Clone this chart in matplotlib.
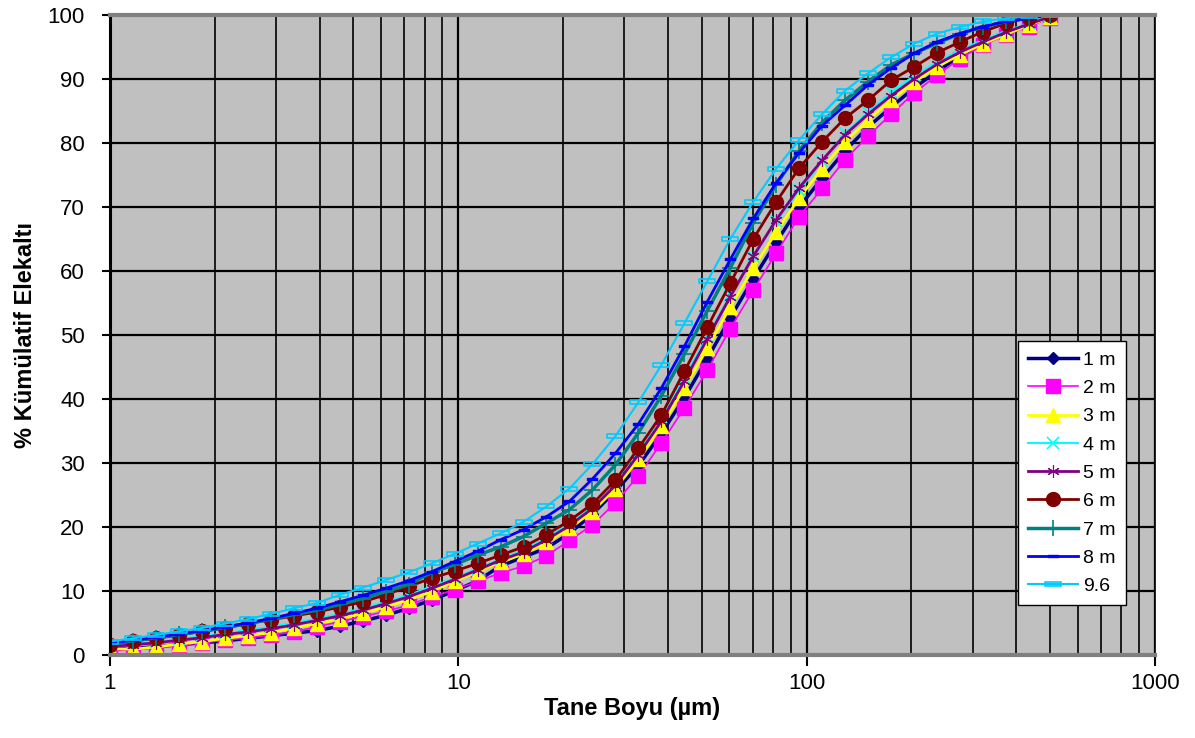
import numpy as np
import matplotlib.pyplot as plt
from matplotlib.path import Path
from matplotlib.ticker import FixedLocator, LogLocator

plt.rcParams['font.family'] = ['Liberation Sans', 'DejaVu Sans']

# sieve sizes (µm)
sizes = [1.00, 1.164, 1.355, 1.577, 1.836, 2.137, 2.487, 2.895, 3.370, 3.923,
         4.566, 5.315, 6.187, 7.202, 8.383, 9.758, 11.36, 13.22, 15.39, 17.91,
         20.85, 24.27, 28.25, 32.89, 38.28, 44.56, 51.87, 60.38, 70.28, 81.81,
         95.23, 110.8, 129.0, 150.2, 174.8, 203.5, 236.9, 275.7, 321.0, 373.6,
         434.9, 500.0]

# cumulative passing (%) per depth
d1m = [1.0, 1.0, 1.3, 1.6, 1.9, 2.2, 2.6, 3.0, 3.4, 3.8,
       4.5, 5.3, 6.2, 7.3, 8.6, 10.0, 11.6, 13.9, 15.3, 16.7,
       19.0, 22.0, 25.6, 29.6, 34.6, 40.2, 46.3, 52.7, 58.8, 64.5,
       70.0, 74.5, 78.8, 82.5, 85.6, 88.6, 91.2, 93.6, 95.6, 97.2,
       98.5, 99.7]
d2m = [0.7, 0.8, 1.1, 1.5, 1.9, 2.3, 2.7, 3.1, 3.6, 4.4,
       5.2, 6.0, 6.8, 7.8, 9.1, 10.2, 11.5, 12.8, 13.9, 15.5,
       17.9, 20.3, 23.8, 28.0, 33.1, 38.6, 44.5, 51.0, 57.0, 62.8,
       68.5, 72.9, 77.4, 81.1, 84.5, 87.8, 90.6, 93.2, 95.3, 96.9,
       98.2, 99.6]
d3m = [1.0, 0.9, 1.25, 1.7, 2.1, 2.6, 3.0, 3.5, 4.2, 4.9,
       5.6, 6.5, 7.5, 8.6, 9.9, 11.5, 13.0, 14.5, 15.8, 17.6,
       19.8, 22.4, 26.0, 30.6, 35.7, 41.7, 47.9, 54.4, 60.4, 66.1,
       71.4, 76.0, 80.2, 83.6, 86.7, 89.5, 91.9, 93.8, 95.5, 97.0,
       98.4, 99.7]
d4m = [1.4, 1.8, 2.1, 2.5, 2.9, 3.4, 3.9, 4.4, 5.0, 5.7,
       6.4, 7.3, 8.3, 9.4, 10.7, 12.0, 13.5, 15.0, 16.4, 18.3,
       20.6, 23.4, 27.1, 32.0, 37.2, 43.4, 49.8, 56.2, 62.3, 67.8,
       72.6, 77.2, 81.5, 84.9, 87.9, 90.5, 92.7, 94.5, 96.1, 97.5,
       98.7, 99.8]
d5m = [1.3, 1.6, 1.9, 2.3, 2.7, 3.2, 3.6, 4.1, 4.7, 5.4,
       6.1, 7.0, 8.0, 9.1, 10.4, 11.8, 13.3, 14.8, 16.1, 18.0,
       20.2, 22.9, 26.5, 31.3, 36.5, 42.8, 49.4, 56.0, 62.3, 68.0,
       73.0, 77.3, 81.3, 84.5, 87.4, 90.0, 92.3, 94.2, 95.8, 97.3,
       98.6, 99.7]
d6m = [1.6, 2.2, 2.6, 3.1, 3.7, 4.2, 4.9, 5.5, 6.1, 6.7,
       7.5, 8.3, 9.4, 10.7, 12.0, 13.1, 14.3, 15.6, 16.9, 18.8,
       21.0, 23.6, 27.3, 32.3, 37.5, 44.3, 51.2, 58.1, 65.0, 70.8,
       76.1, 80.2, 83.9, 86.7, 89.8, 91.9, 94.1, 95.8, 97.4, 98.7,
       99.6, 100.0]
d7m = [1.7, 2.2, 2.7, 3.2, 3.7, 4.3, 4.9, 5.6, 6.3, 7.0,
       7.9, 8.8, 9.9, 11.0, 12.9, 14.1, 15.6, 16.9, 18.5, 20.6,
       22.7, 25.8, 29.7, 34.7, 40.5, 47.0, 53.8, 60.5, 67.5, 73.5,
       78.8, 83.2, 86.7, 89.6, 92.2, 94.0, 95.6, 97.1, 98.1, 99.0,
       99.6, 100.0]
d8m = [1.9, 2.3, 2.8, 3.3, 3.8, 4.4, 5.0, 5.7, 6.5, 7.3,
       8.3, 9.3, 10.4, 11.6, 13.0, 14.6, 16.2, 18.0, 19.6, 21.6,
       24.0, 27.5, 31.5, 36.1, 41.7, 48.2, 55.2, 61.8, 68.2, 73.8,
       78.5, 82.7, 85.9, 89.1, 91.7, 94.0, 95.8, 97.1, 98.2, 99.0,
       99.5, 100.0]
d96 = [2.1, 2.6, 3.1, 3.7, 4.2, 4.9, 5.6, 6.4, 7.3, 8.1,
       9.4, 10.5, 11.7, 12.9, 14.3, 15.8, 17.4, 19.0, 20.8, 23.2,
       26.0, 29.8, 34.2, 39.5, 45.3, 51.8, 58.4, 65.0, 70.8, 76.0,
       80.5, 84.5, 88.2, 90.9, 93.4, 95.5, 97.1, 98.1, 99.0, 99.5,
       99.8, 100.0]

labels = ['1 m', '2 m', '3 m', '4 m', '5 m', '6 m', '7 m', '8 m', '9.6']

# small horizontal bar used as marker for the two deepest series
bar_wide = Path([(-1, -0.3), (1, -0.3), (1, 0.3), (-1, 0.3), (-1, -0.3)],
                [Path.MOVETO, Path.LINETO, Path.LINETO, Path.LINETO, Path.CLOSEPOLY])

styles = [
    dict(color='#000080', lw=2.5, marker='D', ms=6),
    dict(color='#FF00FF', lw=1.2, marker='s', ms=10),
    dict(color='#FFFF00', lw=2.0, marker='^', ms=10),
    dict(color='#00FFFF', lw=1.5, marker='x', ms=8, mew=1.2),
    dict(color='#800080', lw=2.0, marker=(6, 2, 0), ms=9, mew=0.8),
    dict(color='#800000', lw=2.0, marker='o', ms=10),
    dict(color='#008080', lw=2.5, marker='+', ms=12, mew=1.2),
    dict(color='#0000FF', lw=2.0, marker=bar_wide, ms=7),
    dict(color='#00CCFF', lw=1.5, marker=bar_wide, ms=11, mfc='none', mew=1.2),
]

series = [d1m, d2m, d3m, d4m, d5m, d6m, d7m, d8m, d96]

fig = plt.figure(figsize=(11.95, 7.38), dpi=100)
ax = fig.add_axes([0.092, 0.1125, 0.8745, 0.8672])
ax.set_facecolor('#C0C0C0')

for vals, lab, st in zip(series, labels, styles):
    st = dict(st)
    ax.plot(sizes, vals, label=lab, color=st.pop('color'), lw=st.pop('lw'),
            marker=st.pop('marker'), ms=st.pop('ms'), **st)

ax.set_xscale('log')
ax.set_xlim(1, 1000)
ax.set_ylim(0, 100)

ax.xaxis.set_major_locator(FixedLocator([1, 10, 100, 1000]))
ax.xaxis.set_minor_locator(LogLocator(base=10, subs=np.arange(2, 10)))
ax.set_xticks([1, 10, 100, 1000])
ax.set_xticklabels(['1', '10', '100', '1000'])
ax.set_yticks(np.arange(0, 101, 10))

ax.grid(True, which='major', axis='both', color='black', lw=1.6, zorder=0)
ax.grid(True, which='minor', axis='x', color='black', lw=1.2, zorder=0)
ax.set_axisbelow(True)

ax.tick_params(axis='y', direction='out', length=6, width=1.5, labelsize=16, pad=12)
ax.tick_params(axis='x', which='major', direction='out', length=8, width=1.5,
               labelsize=16, pad=5)
ax.tick_params(axis='x', which='minor', length=0)

ax.spines['left'].set_color('black')
ax.spines['left'].set_linewidth(2.2)
for side in ('top', 'bottom'):
    ax.spines[side].set_color('#808080')
    ax.spines[side].set_linewidth(3)
ax.spines['right'].set_color('black')
ax.spines['right'].set_linewidth(1.2)

ax.set_xlabel('Tane Boyu (µm)', fontsize=17, fontweight='bold', labelpad=2)
ax.set_ylabel('% Kümülatif Elekaltı', fontsize=17, fontweight='bold', labelpad=8)

leg = ax.legend(loc='upper left', bbox_to_anchor=(0.869, 0.49), fontsize=14,
                frameon=True, fancybox=False, edgecolor='black',
                handlelength=2.6, labelspacing=0.55, borderpad=0.5,
                handletextpad=0.25, borderaxespad=0)
leg.get_frame().set_linewidth(1.0)
leg.get_frame().set_facecolor('white')
leg.get_frame().set_alpha(1)

fig.savefig('out.png', dpi=100, facecolor='white')
